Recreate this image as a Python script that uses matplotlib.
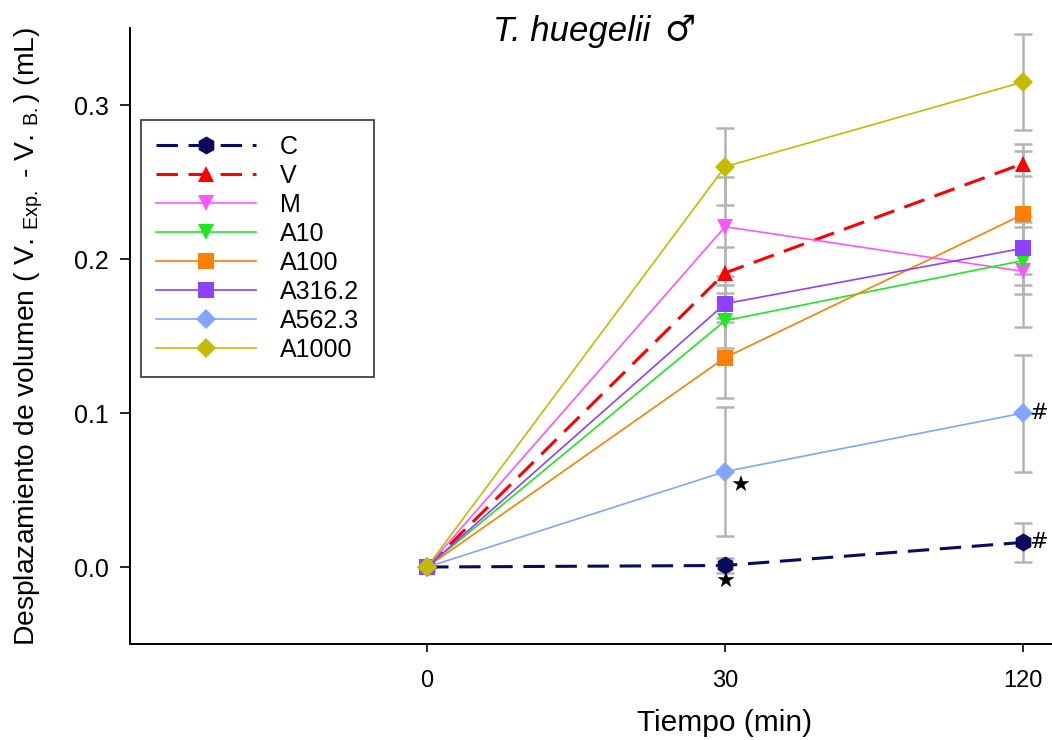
import matplotlib
matplotlib.use('Agg')
import matplotlib.pyplot as plt
import numpy as np

times = ['0', '30', '120']

c_mean = [0.0, 0.001, 0.016]
c_err = [0.0, 0.005, 0.0125]
v_mean = [0.0, 0.191, 0.262]
v_err = [0.0, 0.017, 0.008]
m_mean = [0.0, 0.221, 0.192]
m_err = [0.0, 0.032, 0.036]
a10_mean = [0.0, 0.160, 0.199]
a10_err = [0.0, 0.018, 0.022]
a100_mean = [0.0, 0.136, 0.229]
a100_err = [0.0, 0.026, 0.046]
a316_mean = [0.0, 0.171, 0.207]
a316_err = [0.0, 0.012, 0.017]
a562_mean = [0.0, 0.062, 0.100]
a562_err = [0.0, 0.042, 0.038]
a1000_mean = [0.0, 0.260, 0.315]
a1000_err = [0.0, 0.025, 0.031]

# (series index, time index, symbol, offset in points)
marks = [(6, 1, u'\u2605', (11, -10)),
         (0, 1, u'\u2605', (0, -12)),
         (6, 2, '#', (11, 0)),
         (0, 2, '#', (11, 0))]


def main():
    plt.rcParams['font.family'] = ['Liberation Sans', 'DejaVu Sans']
    plt.rcParams['mathtext.default'] = 'regular'

    series = [
        ('C', c_mean, c_err, '#0b0b5e', 'h', 13, True),
        ('V', v_mean, v_err, '#ff0000', '^', 12, True),
        ('M', m_mean, m_err, '#ff55ff', 'v', 12, False),
        ('A10', a10_mean, a10_err, '#1ee81e', 'v', 12, False),
        ('A100', a100_mean, a100_err, '#ff8000', 's', 11, False),
        ('A316.2', a316_mean, a316_err, '#9040ff', 's', 11, False),
        ('A562.3', a562_mean, a562_err, '#80a6ff', 'D', 10, False),
        ('A1000', a1000_mean, a1000_err, '#c4bc00', 'D', 10, False),
    ]

    fig = plt.figure(figsize=(10.52, 7.4), dpi=100)
    ax = fig.add_axes([0.1236, 0.1297, 0.8764, 0.8324])

    x = np.arange(len(times))

    lines = []
    for name, mean, err, color, marker, ms, dashed in series:
        ax.errorbar(x, mean, yerr=err, fmt='none', ecolor='#b4b4b4',
                    elinewidth=1.8, capsize=6.5, capthick=1.8, zorder=1)
        if dashed:
            ln, = ax.plot(x, mean, linestyle=(0, (7, 3.5)), linewidth=2.2,
                          color=color, marker=marker, markersize=ms,
                          markeredgewidth=0, zorder=3)
        else:
            ln, = ax.plot(x, mean, linestyle='-', linewidth=1.2,
                          color=color, marker=marker, markersize=ms,
                          markeredgewidth=0, zorder=3)
        lines.append(ln)

    for si, ti, sym, off in marks:
        yv = series[si][1][ti]
        ax.annotate(sym, (x[ti], yv), xytext=off, textcoords='offset points',
                    ha='center', va='center', fontsize=16, color='black',
                    family=['DejaVu Sans'], zorder=4)

    ax.set_xlim(-0.997, 2.097)
    ax.set_ylim(-0.05, 0.35)
    ax.set_xticks(x)
    ax.set_xticklabels(times)
    ax.set_yticks([0.0, 0.1, 0.2, 0.3])
    ax.set_yticklabels(['0.0', '0.1', '0.2', '0.3'])
    ax.tick_params(axis='x', direction='out', length=6, width=1.2,
                   labelsize=17, pad=13)
    ax.tick_params(axis='y', direction='out', length=7, width=1.2,
                   labelsize=18, pad=8)

    for side in ['top', 'right']:
        ax.spines[side].set_visible(False)
    for side in ['left', 'bottom']:
        ax.spines[side].set_linewidth(1.4)

    ax.set_xlabel('Tiempo (min)', fontsize=21.5)
    ax.xaxis.set_label_coords(0.645, -0.105)
    ax.set_ylabel('Desplazamiento de volumen ( V. $_{Exp.}$ - V. $_{B.}$) (mL)',
                  fontsize=20.3)
    ax.yaxis.set_label_coords(-0.092, 0.5)

    fig.text(0.6179, 1 - 32 / 740., 'T. huegelii', fontsize=25, style='italic',
             ha='right', va='center')
    fig.text(0.6310, 1 - 30 / 740., u'\u2642', fontsize=25, ha='left',
             va='center', family=['DejaVu Sans'])

    leg = ax.legend(lines, [s[0] for s in series], loc='upper left',
                    bbox_to_anchor=(0.0119, 0.8506), fontsize=18,
                    handlelength=4.0, handletextpad=0.95, labelspacing=0.2,
                    borderpad=0.6, frameon=True, fancybox=False,
                    borderaxespad=0)
    leg.get_frame().set_edgecolor('black')
    leg.get_frame().set_linewidth(1.2)

    fig.savefig('out.png', dpi=100)


if __name__ == "__main__": main()
